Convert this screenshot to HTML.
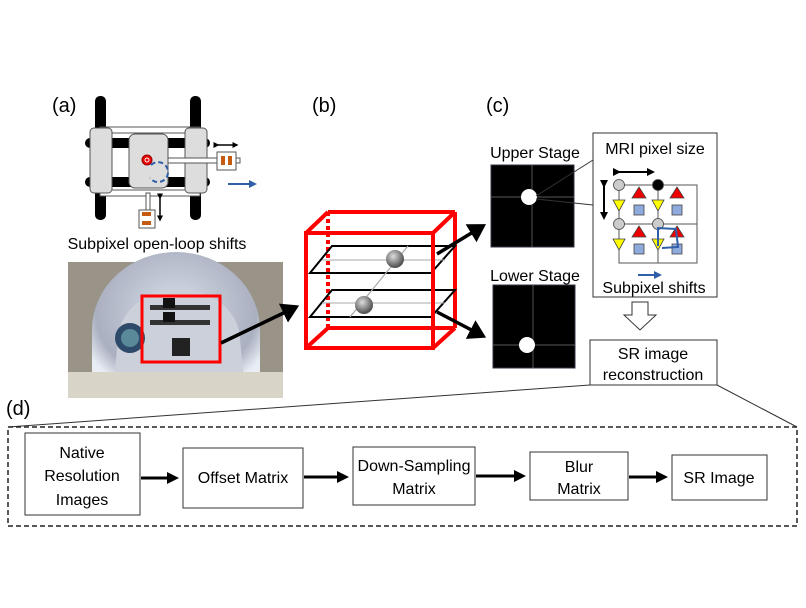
<!DOCTYPE html>
<html><head><meta charset="utf-8"><style>
html,body{margin:0;padding:0;background:#fff;}
svg{display:block;}
text{font-family:"Liberation Sans",sans-serif;fill:#000;}
</style></head><body>
<svg width="806" height="608" viewBox="0 0 806 608" xmlns="http://www.w3.org/2000/svg">
<defs>
<marker id="ah" markerWidth="6" markerHeight="6" refX="4" refY="3" orient="auto" markerUnits="strokeWidth"><path d="M0,0 L5,3 L0,6 z" fill="#000"/></marker>
<marker id="ahs" markerWidth="4" markerHeight="4" refX="3" refY="2" orient="auto" markerUnits="strokeWidth"><path d="M0,0 L4,2 L0,4 z" fill="#000"/></marker>
<marker id="ahb" markerWidth="4" markerHeight="4" refX="3" refY="2" orient="auto" markerUnits="strokeWidth"><path d="M0,0 L4,2 L0,4 z" fill="#2f5fa8"/></marker>
<radialGradient id="ball" cx="0.4" cy="0.35" r="0.6"><stop offset="0" stop-color="#ddd"/><stop offset="1" stop-color="#555"/></radialGradient>
<radialGradient id="bore" cx="0.5" cy="0.4" r="0.6"><stop offset="0" stop-color="#d8dde8"/><stop offset="0.8" stop-color="#aab0c0"/><stop offset="1" stop-color="#e8ecf4"/></radialGradient>
</defs>

<!-- labels -->
<text x="52" y="112" font-size="20">(a)</text>
<text x="312" y="112" font-size="20">(b)</text>
<text x="486" y="112" font-size="20">(c)</text>
<text x="6" y="415" font-size="20">(d)</text>

<!-- robot diagram -->
<g>
<rect x="95" y="96" width="11" height="124" rx="5" fill="#000"/>
<rect x="190" y="96" width="11" height="124" rx="5" fill="#000"/>
<rect x="100" y="127" width="100" height="6" fill="#fff" stroke="#555"/>
<rect x="100" y="190" width="100" height="6" fill="#fff" stroke="#555"/>
<rect x="85" y="138" width="125" height="10" rx="5" fill="#000"/>
<rect x="85" y="177" width="125" height="10" rx="5" fill="#000"/>
<rect x="90" y="128" width="22" height="65" rx="4" fill="#ddd" stroke="#555"/>
<rect x="185" y="128" width="22" height="65" rx="4" fill="#ddd" stroke="#555"/>
<rect x="129" y="134" width="39" height="54" rx="6" fill="#ddd" stroke="#555"/>
<rect x="168" y="158" width="72" height="5" fill="#fff" stroke="#555"/>
<rect x="217" y="152" width="19" height="18" fill="#fff" stroke="#555"/>
<rect x="221" y="156" width="4" height="9" fill="#c55a11"/>
<rect x="228" y="156" width="4" height="9" fill="#c55a11"/>
<line x1="218" y1="145" x2="237" y2="145" stroke="#000" stroke-width="1.5" marker-end="url(#ahs)" marker-start="url(#ahs)"/>
<rect x="146" y="193" width="4" height="34" fill="#fff" stroke="#555"/>
<rect x="139" y="210" width="16" height="18" fill="#fff" stroke="#555"/>
<rect x="142" y="212" width="9" height="4" fill="#c55a11"/>
<rect x="142" y="221" width="9" height="4" fill="#c55a11"/>
<line x1="160" y1="198" x2="160" y2="220" stroke="#000" stroke-width="1.5" marker-end="url(#ahs)" marker-start="url(#ahs)"/>
<circle cx="147" cy="160" r="5" fill="#e00" stroke="#900"/>
<circle cx="147" cy="160" r="2" fill="none" stroke="#fff"/>
<path d="M151,165 A10,10 0 1,1 150,178" fill="none" stroke="#2f5fa8" stroke-width="2" stroke-dasharray="5,3"/>
<line x1="228" y1="184" x2="255" y2="184" stroke="#2f5fa8" stroke-width="2" marker-end="url(#ahb)"/>
</g>
<text x="157" y="249" font-size="16" text-anchor="middle">Subpixel open-loop shifts</text>

<!-- photo -->
<rect x="68" y="262" width="215" height="136" fill="#9a9388"/>
<path d="M92,398 L92,330 A84,78 0 0 1 260,330 L260,398 z" fill="url(#bore)"/>
<path d="M112,398 L118,340 A60,50 0 0 1 240,340 L246,398 z" fill="#ccd0da"/>
<rect x="68" y="372" width="215" height="26" fill="#d9d4c8"/>
<circle cx="130" cy="338" r="15" fill="#2e4a6a"/><circle cx="130" cy="338" r="9" fill="#5a8a9a"/>
<rect x="150" y="305" width="60" height="5" fill="#333"/>
<rect x="150" y="320" width="60" height="5" fill="#333"/>
<rect x="163" y="298" width="12" height="10" fill="#111"/>
<rect x="163" y="312" width="12" height="10" fill="#111"/>
<rect x="172" y="338" width="18" height="18" fill="#222"/>
<rect x="142" y="296" width="78" height="66" fill="none" stroke="#f00" stroke-width="3"/>
<line x1="221" y1="343" x2="296" y2="307" stroke="#000" stroke-width="3.5" marker-end="url(#ah)"/>

<!-- cube -->
<g fill="none">
<line x1="328" y1="212" x2="328" y2="328" stroke="#f00" stroke-width="4" stroke-dasharray="4,3"/>
<line x1="328" y1="212" x2="455" y2="212" stroke="#f00" stroke-width="4"/>
<line x1="455" y1="212" x2="455" y2="328" stroke="#f00" stroke-width="4"/>
<line x1="328" y1="328" x2="455" y2="328" stroke="#f00" stroke-width="4"/>
<line x1="306" y1="233" x2="328" y2="212" stroke="#f00" stroke-width="4"/>
<line x1="433" y1="233" x2="455" y2="212" stroke="#f00" stroke-width="4"/>
<line x1="306" y1="348" x2="328" y2="328" stroke="#f00" stroke-width="4"/>
<line x1="433" y1="348" x2="455" y2="328" stroke="#f00" stroke-width="4"/>
<polygon points="332,246 455,246 431,273 310,273" stroke="#000" stroke-width="2"/>
<polygon points="332,290 455,290 431,317 310,317" stroke="#000" stroke-width="2"/>
<line x1="322" y1="260" x2="445" y2="260" stroke="#aaa"/>
<line x1="322" y1="303" x2="445" y2="303" stroke="#aaa"/>
<line x1="350" y1="317" x2="408" y2="246" stroke="#aaa"/>
<line x1="350" y1="317" x2="408" y2="246" stroke="#aaa"/>
<rect x="306" y="233" width="127" height="115" stroke="#f00" stroke-width="4"/>
</g>
<circle cx="395" cy="259" r="9" fill="url(#ball)"/>
<circle cx="364" cy="305" r="9" fill="url(#ball)"/>
<line x1="437" y1="254" x2="483" y2="226" stroke="#000" stroke-width="3.5" marker-end="url(#ah)"/>
<line x1="437" y1="312" x2="483" y2="336" stroke="#000" stroke-width="3.5" marker-end="url(#ah)"/>

<!-- stage images -->
<text x="535" y="158" font-size="16" text-anchor="middle">Upper Stage</text>
<rect x="491" y="165" width="83" height="82" fill="#000" stroke="#334"/>
<line x1="532" y1="165" x2="532" y2="247" stroke="#777" stroke-width="0.7"/>
<line x1="491" y1="197" x2="574" y2="197" stroke="#777" stroke-width="0.7"/>
<circle cx="529" cy="197" r="8" fill="#fff"/>
<text x="535" y="281" font-size="16" text-anchor="middle">Lower Stage</text>
<rect x="493" y="285" width="82" height="83" fill="#000" stroke="#334"/>
<line x1="533" y1="285" x2="533" y2="368" stroke="#777" stroke-width="0.7"/>
<line x1="493" y1="345" x2="575" y2="345" stroke="#777" stroke-width="0.7"/>
<circle cx="527" cy="345" r="8" fill="#fff"/>

<!-- pixel box -->
<rect x="593" y="133" width="124" height="164" fill="#fff" stroke="#333"/>
<line x1="536" y1="196" x2="593" y2="160" stroke="#333"/>
<line x1="536" y1="199" x2="593" y2="205" stroke="#333"/>
<text x="655" y="154" font-size="16" text-anchor="middle">MRI pixel size</text>
<g stroke="#555" fill="none">
<rect x="619" y="185" width="78" height="78"/>
<line x1="658" y1="185" x2="658" y2="263"/>
<line x1="619" y1="224" x2="697" y2="224"/>
</g>
<line x1="619" y1="172" x2="653" y2="172" stroke="#000" stroke-width="2" marker-end="url(#ahs)" marker-start="url(#ahs)"/>
<line x1="604" y1="186" x2="604" y2="218" stroke="#000" stroke-width="2" marker-end="url(#ahs)" marker-start="url(#ahs)"/>
<g stroke="#444" stroke-width="0.8">
<polygon points="639,187 646,198 632,198" fill="#e00"/>
<polygon points="677,187 684,198 670,198" fill="#e00"/>
<polygon points="639,226 646,237 632,237" fill="#e00"/>
<polygon points="677,226 684,237 670,237" fill="#e00"/>
<polygon points="613,200 625,200 619,211" fill="#ff0"/>
<polygon points="652,200 664,200 658,211" fill="#ff0"/>
<polygon points="613,239 625,239 619,250" fill="#ff0"/>
<polygon points="652,239 664,239 658,250" fill="#ff0"/>
<rect x="634" y="205" width="10" height="10" fill="#8faadc"/>
<rect x="672" y="205" width="10" height="10" fill="#8faadc"/>
<rect x="634" y="244" width="10" height="10" fill="#8faadc"/>
<rect x="672" y="244" width="10" height="10" fill="#8faadc"/>
<circle cx="619" cy="185" r="5.5" fill="#ccc"/>
<circle cx="658" cy="185" r="5.5" fill="#000"/>
<circle cx="619" cy="224" r="5.5" fill="#ccc"/>
<circle cx="658" cy="224" r="5.5" fill="#ccc"/>
</g>
<polyline points="658,246 658,228 676,229 678,247 662,248" fill="none" stroke="#2f5fa8" stroke-width="2"/>
<line x1="638" y1="275" x2="660" y2="275" stroke="#2f5fa8" stroke-width="2" marker-end="url(#ahb)"/>
<text x="654" y="293" font-size="16" text-anchor="middle">Subpixel shifts</text>

<!-- hollow arrow -->
<polygon points="632,302 648,302 648,315 656,315 640,330 624,315 632,315" fill="#fff" stroke="#333"/>

<!-- SR recon box -->
<rect x="590" y="340" width="127" height="45" fill="#fff" stroke="#333"/>
<text x="653" y="359" font-size="16" text-anchor="middle">SR image</text>
<text x="653" y="380" font-size="16" text-anchor="middle">reconstruction</text>
<line x1="590" y1="385" x2="8" y2="427" stroke="#333"/>
<line x1="717" y1="385" x2="797" y2="427" stroke="#333"/>

<!-- pipeline -->
<rect x="8" y="427" width="789" height="99" fill="none" stroke="#222" stroke-width="1.5" stroke-dasharray="5,3"/>
<g fill="#fff" stroke="#333">
<rect x="25" y="433" width="115" height="82"/>
<rect x="183" y="448" width="120" height="60"/>
<rect x="353" y="447" width="122" height="58"/>
<rect x="530" y="452" width="98" height="48"/>
<rect x="672" y="455" width="95" height="45"/>
</g>
<g font-size="16" text-anchor="middle">
<text x="82" y="458">Native</text>
<text x="82" y="481">Resolution</text>
<text x="82" y="505">Images</text>
<text x="243" y="483">Offset Matrix</text>
<text x="414" y="471">Down-Sampling</text>
<text x="414" y="494">Matrix</text>
<text x="579" y="472">Blur</text>
<text x="579" y="494">Matrix</text>
<text x="719" y="483">SR Image</text>
</g>
<g stroke="#000" stroke-width="3">
<line x1="141" y1="478" x2="176" y2="478" marker-end="url(#ahs)"/>
<line x1="304" y1="477" x2="346" y2="477" marker-end="url(#ahs)"/>
<line x1="476" y1="476" x2="523" y2="476" marker-end="url(#ahs)"/>
<line x1="629" y1="477" x2="665" y2="477" marker-end="url(#ahs)"/>
</g>
</svg>
</body></html>
